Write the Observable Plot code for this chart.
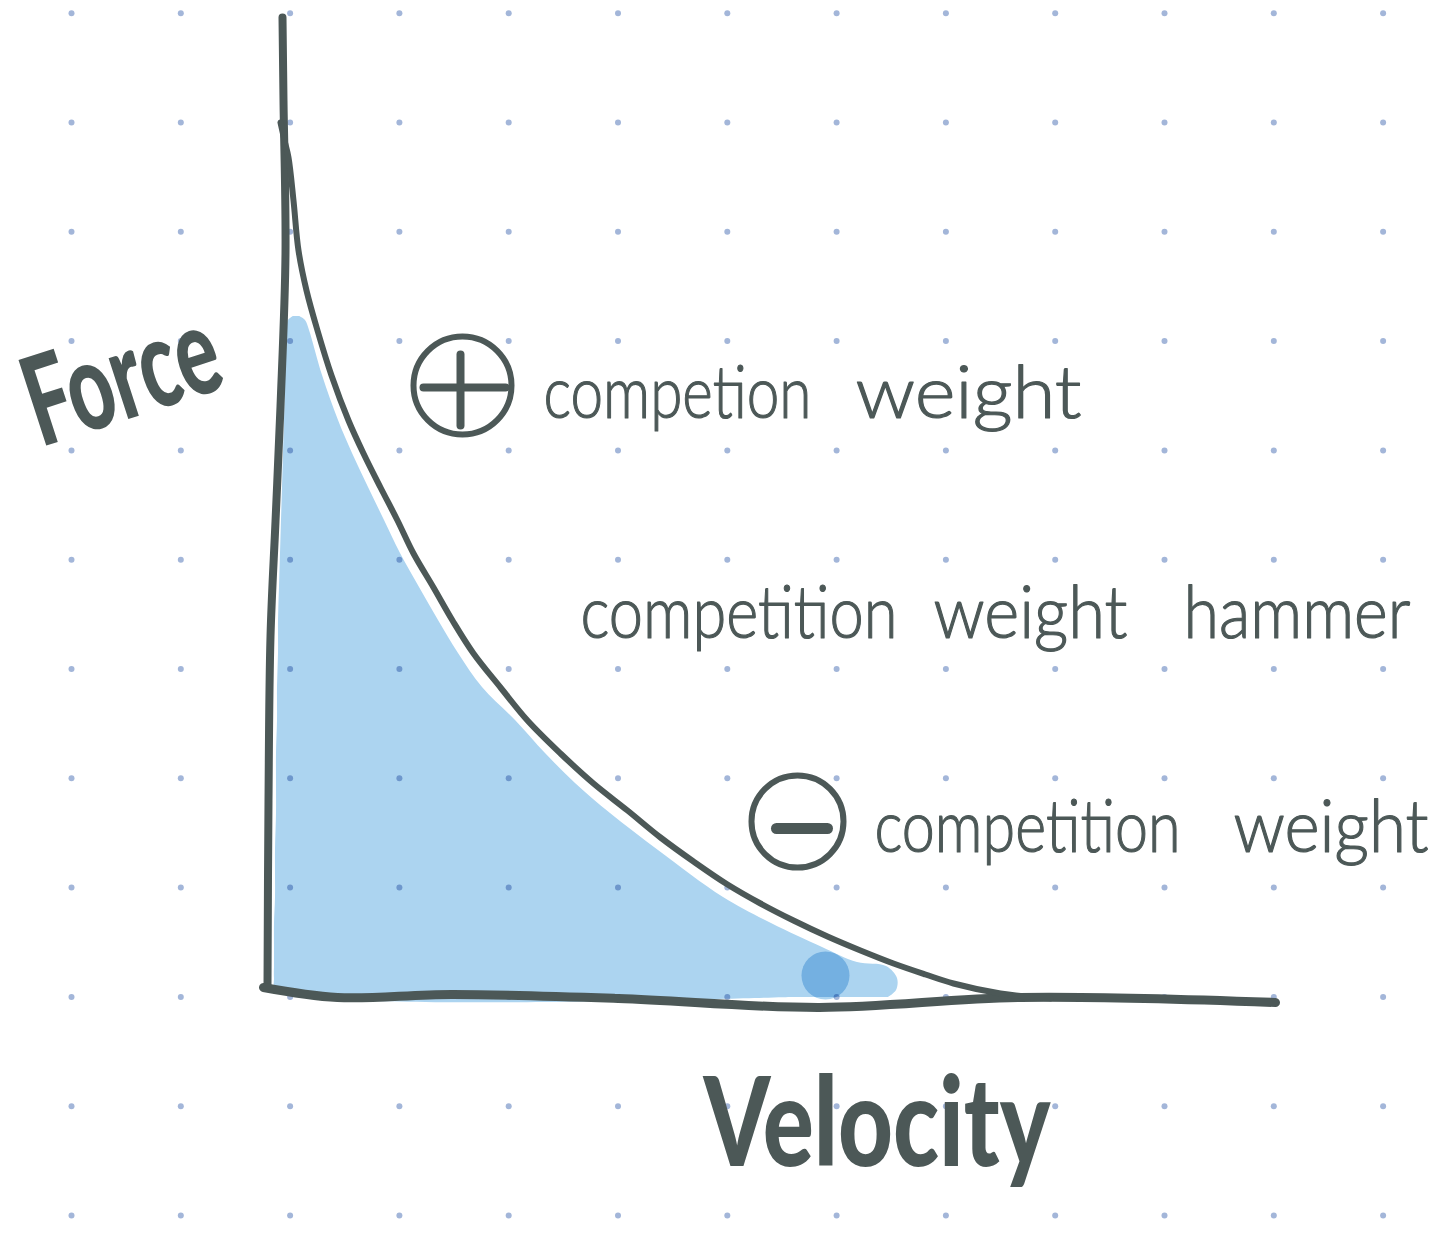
<!DOCTYPE html>
<html>
<head>
<meta charset="utf-8">
<script src="https://cdn.jsdelivr.net/npm/d3@7"></script>
<script src="https://cdn.jsdelivr.net/npm/@observablehq/plot@0.6"></script>
<style>
  html, body { margin: 0; padding: 0; background: #ffffff; }
  #chart svg { display: block; }
</style>
</head>
<body>
<div id="chart"></div>
<script>
// ---------- data (velocity / force units, origin at the axes' corner) ----------
const gridCols = [-1.99, -0.897, 0.196, 1.289, 2.382, 3.475, 4.568, 5.661, 6.754, 7.847, 8.94, 10.033, 11.126];
const gridRows = [9.773, 8.68, 7.587, 6.494, 5.401, 4.308, 3.215, 2.122, 1.029, -0.064, -1.157, -2.25];

const curveVelocity = [0.10,0.14,0.18,0.23,0.28,0.36,0.47,0.61,0.78,0.93,1.10,1.27,1.43,1.63,1.82,2.03,2.30,2.57,2.90,3.23,3.57,3.90,4.23,4.57,4.90,5.23,5.57,5.90,6.23,6.55,6.83,7.30,7.80];
const curveForce    = [8.68,8.50,8.33,7.90,7.40,7.00,6.60,6.15,5.70,5.37,5.03,4.70,4.37,4.03,3.70,3.37,3.03,2.70,2.37,2.07,1.80,1.53,1.29,1.06,0.87,0.70,0.54,0.40,0.27,0.16,0.07,-0.03,-0.08];

// blue brush fill, as horizontal slices: force level, left and right velocity
const fillForce = [6.74,6.70,6.60,6.15,5.70,5.37,5.03,4.70,4.37,4.03,3.70,3.37,3.03,2.70,2.37,2.07,1.77,1.40,0.93,0.67,0.43,0.28,0.24,0.12,0.00,-0.07];
const fillLeft  = [0.23,0.18,0.16,0.15,0.14,0.13,0.12,0.11,0.10,0.09,0.08,0.08,0.07,0.07,0.06,0.06,0.06,0.05,0.05,0.04,0.04,0.04,0.04,0.04,0.06,5.20];
const fillRight = [0.29,0.35,0.39,0.52,0.68,0.82,0.98,1.14,1.30,1.49,1.68,1.88,2.12,2.45,2.75,3.05,3.40,3.88,4.53,5.01,5.52,5.87,6.16,6.27,6.26,6.18];

const blobVelocity = [5.55];
const blobForce = [0.15];

const yAxisVelocity = [0.12,0.13,0.15,0.10,0.05,0.00,-0.02,-0.03];
const yAxisForce    = [9.73,8.90,7.37,5.84,4.69,3.54,1.90,0.03];
const xAxisVelocity = [-0.07,0.67,1.81,3.48,5.49,7.50,10.05];
const xAxisForce    = [0.03,-0.07,-0.04,-0.08,-0.17,-0.07,-0.12];

const axisTitles = ["Force", "Velocity"];
const titleStart = [-2.30, 4.33];
const titleEnd   = [-0.42, 7.80];
const titleForce = [5.43, -1.75];
const titleAngle = [-18, 0];

const words     = ["competion", "weight", "competition", "weight", "hammer", "competition", "weight"];
const wordStart = [2.73, 5.85, 3.10, 6.63, 9.13, 6.04, 9.63];
const wordEnd   = [5.41, 8.11, 6.27, 8.57, 11.40, 9.10, 11.58];
const wordForce = [5.73, 5.73, 3.53, 3.53, 3.53, 1.39, 1.39];

const symbolNames    = ["plus", "minus"];
const symbolVelocity = [1.92, 5.27];
const symbolForce    = [6.05, 1.69];
const barX1 = [1.53, 1.90, 5.06];
const barX2 = [2.35, 1.90, 5.57];
const barY1 = [6.03, 6.36, 1.62];
const barY2 = [6.03, 5.65, 1.62];

// ---------- tables ----------
const grid = gridRows.flatMap(f => gridCols.map(v => ({v, f})));
const curve = curveVelocity.map((v, i) => ({v, f: curveForce[i]}));
const fill = fillForce.map((f, i) => ({f, left: fillLeft[i], right: fillRight[i]}));
const blob = blobVelocity.map((v, i) => ({v, f: blobForce[i]}));
const yAxis = yAxisVelocity.map((v, i) => ({v, f: yAxisForce[i]}));
const xAxis = xAxisVelocity.map((v, i) => ({v, f: xAxisForce[i]}));
const titles = axisTitles.map((t, i) => ({t, v: titleStart[i], f: titleForce[i], a: titleAngle[i]}));
const labels = words.map((t, i) => ({t, v: wordStart[i], f: wordForce[i]}));
const symbols = symbolNames.map((n, i) => ({n, v: symbolVelocity[i], f: symbolForce[i]}));
const bars = barX1.map((x1, i) => ({x1, x2: barX2[i], y1: barY1[i], y2: barY2[i], w: i < 2 ? 8 : 11}));

const INK = "#4c5857";
const DOT = "#a3b6d9";
const BLUE = "#acd4f0";

const chart = Plot.plot({
  width: 1456,
  height: 1233,
  margin: 0,
  style: {background: "transparent"},
  x: {domain: [-2.70, 11.86], axis: null},
  y: {domain: [-2.43, 9.90], axis: null},
  marks: [
    Plot.dot(grid, {x: "v", y: "f", r: 3, fill: DOT, stroke: "none"}),
    Plot.area(fill, {x1: "left", x2: "right", y1: "f", y2: "f", curve: "catmull-rom", fill: BLUE, mixBlendMode: "multiply"}),
    Plot.dot(blob, {x: "v", y: "f", r: 24, fill: BLUE, stroke: "none", mixBlendMode: "multiply"}),
    Plot.line(yAxis, {x: "v", y: "f", curve: "catmull-rom", stroke: INK, strokeWidth: 8, strokeLinecap: "round", strokeLinejoin: "round"}),
    Plot.line(xAxis, {x: "v", y: "f", curve: "catmull-rom", stroke: INK, strokeWidth: 9, strokeLinecap: "round", strokeLinejoin: "round"}),
    Plot.line(curve, {x: "v", y: "f", curve: "catmull-rom", stroke: INK, strokeWidth: 6, strokeLinecap: "round", strokeLinejoin: "round"}),
    Plot.dot(symbols.filter(d => d.n === "plus"), {x: "v", y: "f", r: 49, fill: "none", stroke: INK, strokeWidth: 6}),
    Plot.dot(symbols.filter(d => d.n === "minus"), {x: "v", y: "f", r: 46, fill: "none", stroke: INK, strokeWidth: 6}),
    Plot.link(bars, {x1: "x1", x2: "x2", y1: "y1", y2: "y2", stroke: INK, strokeWidth: d => d.w, strokeLinecap: "round"}),
    Plot.text(labels, {x: "v", y: "f", text: "t", textAnchor: "start", lineAnchor: "bottom",
      fontFamily: "Lato", fontWeight: 300, fontSize: 72, fill: INK, stroke: INK, strokeWidth: 1.2}),
    Plot.text(titles, {x: "v", y: "f", text: "t", rotate: "a", textAnchor: "start", lineAnchor: "bottom",
      fontFamily: "Lato", fontWeight: 900, fontSize: 124, fill: INK})
  ]
});

// fit each handwritten word / title to its measured width
const xs = chart.scale("x");
const textGroups = chart.querySelectorAll('g[aria-label="text"]');
textGroups[0].querySelectorAll("text").forEach((t, i) => {
  const w = xs.apply(wordEnd[i]) - xs.apply(wordStart[i]);
  t.setAttribute("textLength", w.toFixed(1));
  t.setAttribute("lengthAdjust", "spacingAndGlyphs");
});
textGroups[1].querySelectorAll("text").forEach((t, i) => {
  const w = (xs.apply(titleEnd[i]) - xs.apply(titleStart[i])) / Math.cos(titleAngle[i] * Math.PI / 180);
  t.setAttribute("textLength", w.toFixed(1));
  t.setAttribute("lengthAdjust", "spacingAndGlyphs");
});

document.getElementById("chart").appendChild(chart);
</script>
</body>
</html>
